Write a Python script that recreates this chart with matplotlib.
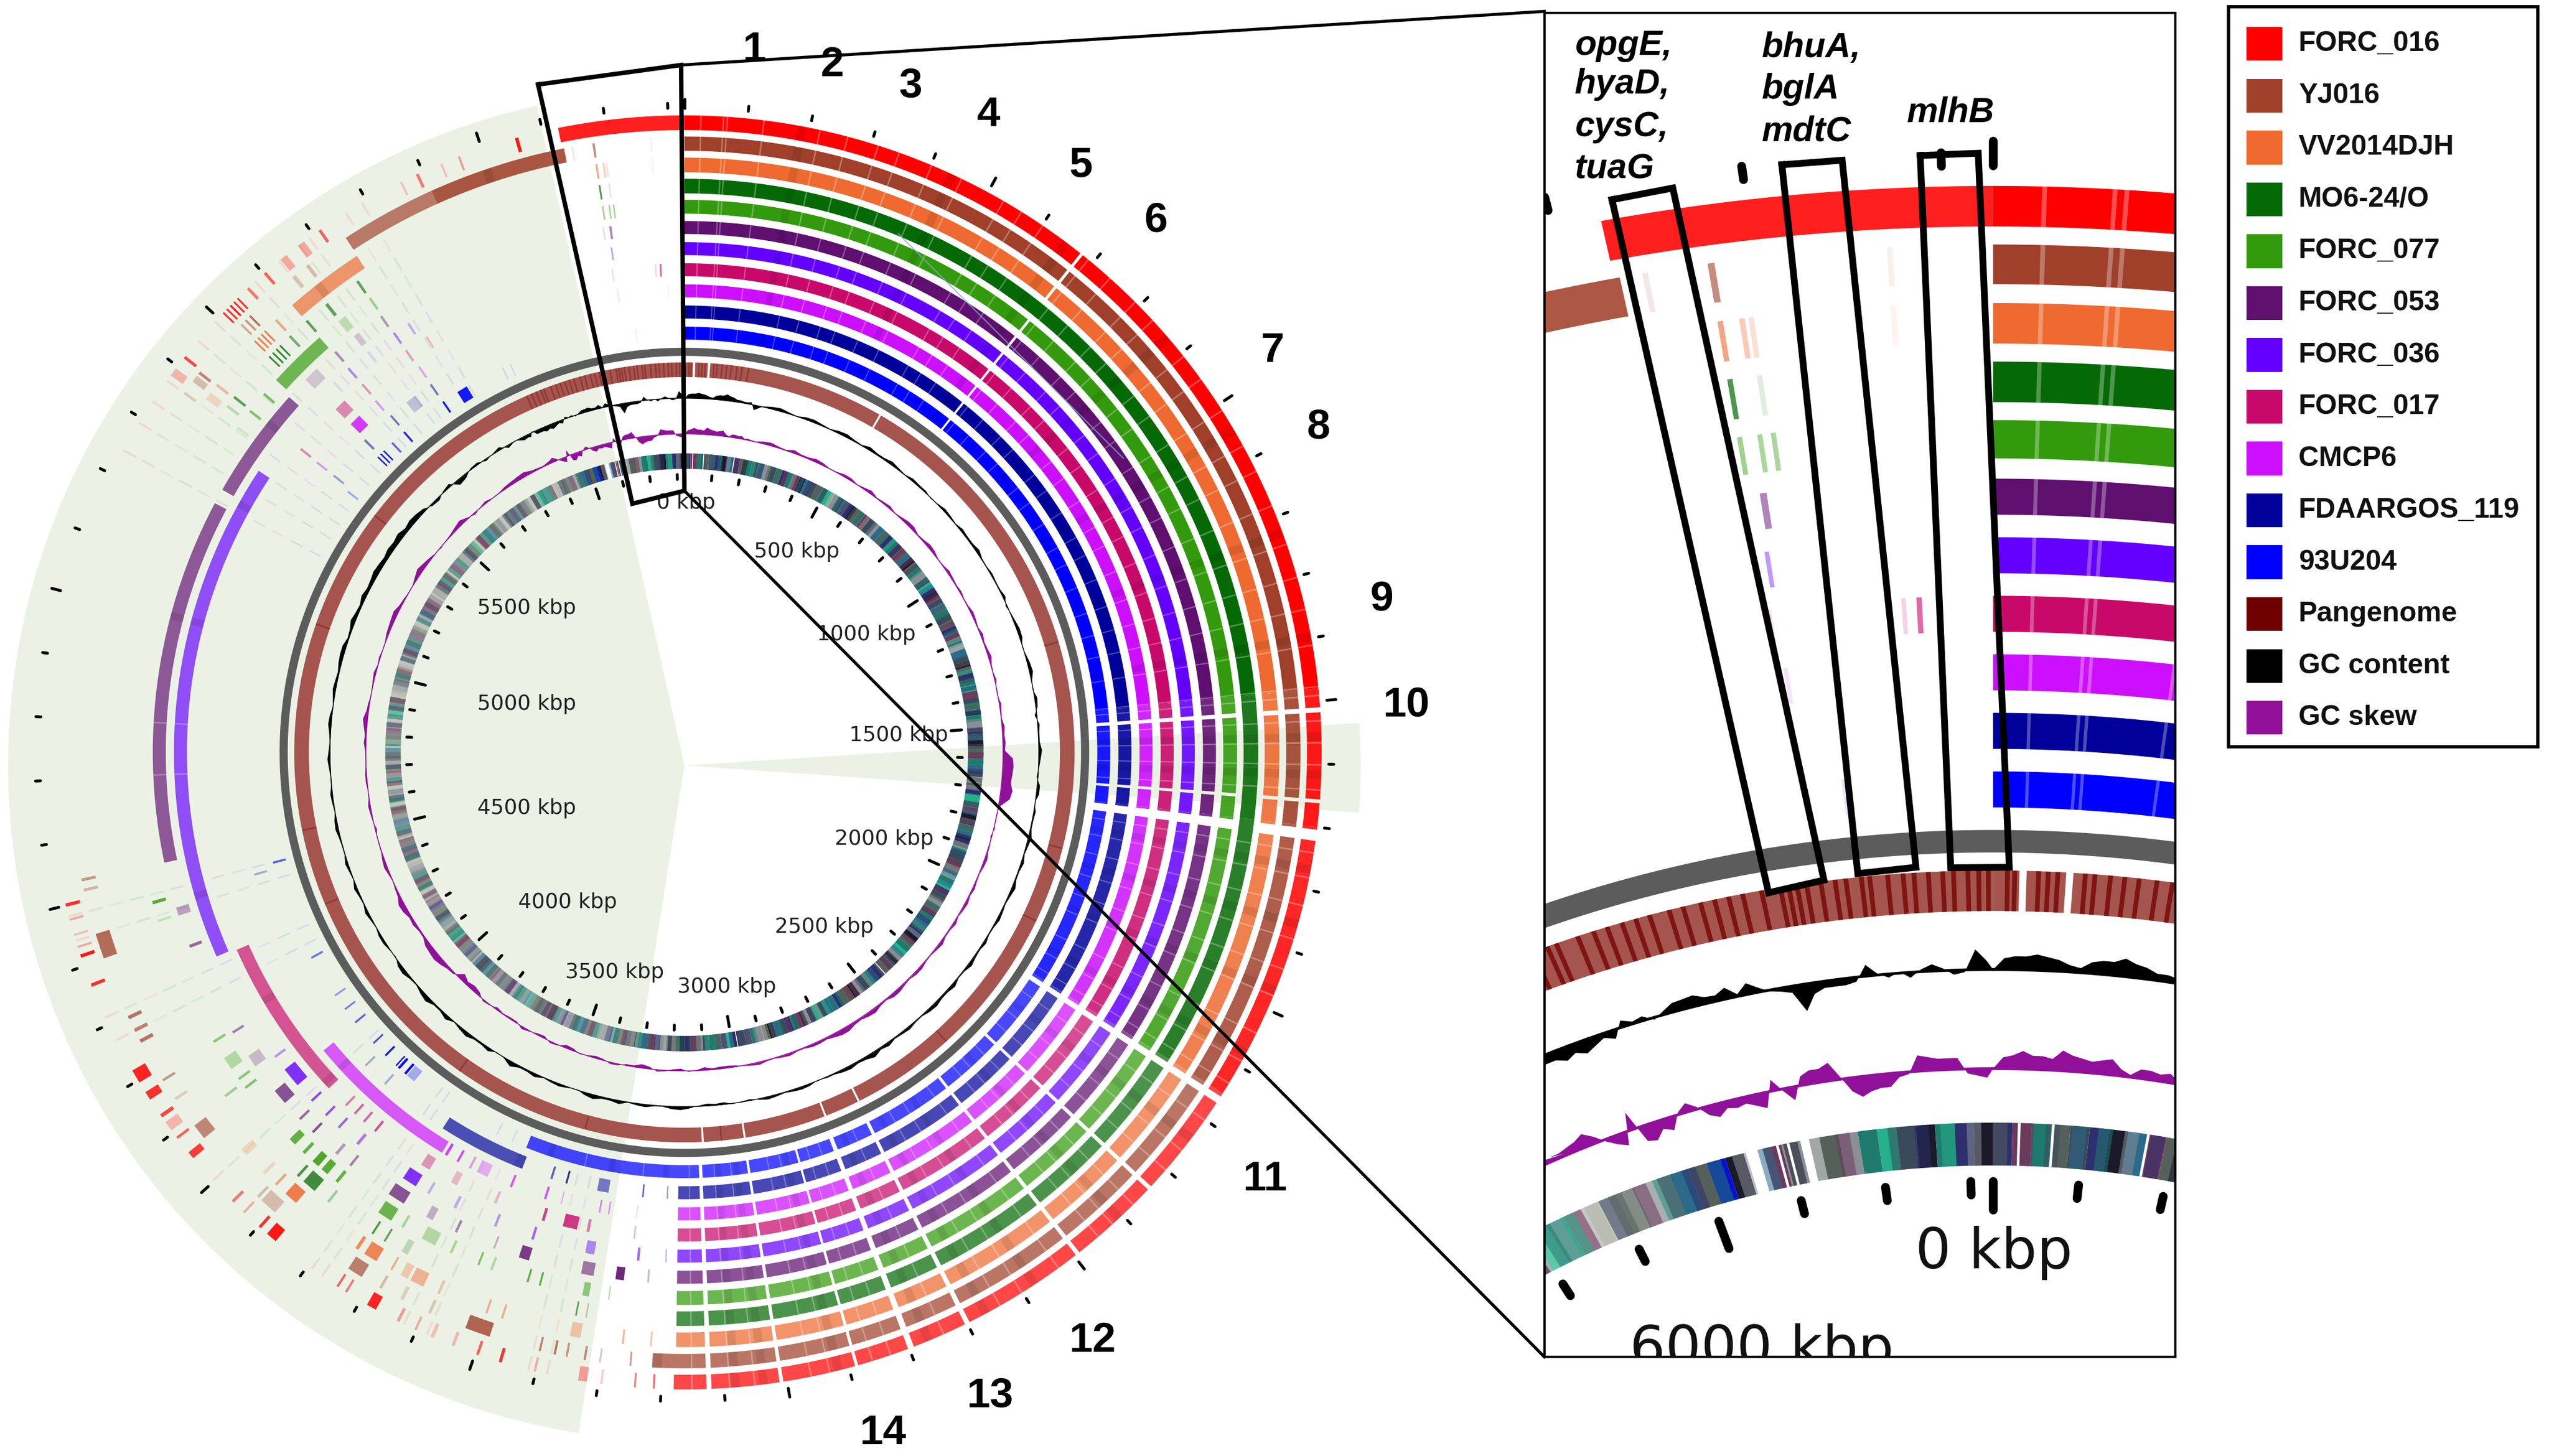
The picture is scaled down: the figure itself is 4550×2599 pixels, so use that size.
import numpy as np
import matplotlib
matplotlib.use('Agg')
import matplotlib.pyplot as plt
from matplotlib.collections import PolyCollection, LineCollection
from matplotlib.colors import to_rgb
from matplotlib.patches import Wedge, Rectangle
from matplotlib.projections.polar import PolarTransform
from matplotlib.transforms import Affine2D

GENOME_KBP = 6326

# legend
LEGEND_NAMES = ['FORC_016', 'YJ016', 'VV2014DJH', 'MO6-24/O', 'FORC_077', 'FORC_053', 'FORC_036',
                'FORC_017', 'CMCP6', 'FDAARGOS_119', '93U204', 'Pangenome', 'GC content', 'GC skew']
LEGEND_COLORS = ['#ff0000', '#a0402a', '#ee6a30', '#056a05', '#339a0d', '#5f0f70', '#6400ff',
                 '#c8096a', '#cc0fff', '#00009a', '#0000ff', '#700000', '#000000', '#90109a']

# solid stretches of each genome, in kbp
SPAN_RED = [(0, 3180), (6125, 6326)]
SPAN_BROWN = [(0, 3216), (5740, 6128)]
SPAN_ORANGE = [(0, 3177), (5601, 5739)]
SPAN_DKGREEN = [(0, 3177)]
SPAN_GREEN = [(0, 3177), (5489, 5600)]
SPAN_PURPLE = [(0, 3177), (5265, 5482), (4534, 5236)]
SPAN_VIOLET = [(0, 3177), (4330, 5333)]
SPAN_CRIMSON = [(0, 3177), (3982, 4326)]
SPAN_MAGENTA = [(0, 3177), (3711, 4049)]
SPAN_NAVY = [(0, 3177), (3537, 3738)]
SPAN_BLUE = [(0, 3546)]

# short matches: kbp, width, strength
DASH_RED = [(6055, 9, .9), (5960, 6, .35), (5930, 6, .2), (5888, 8, .5), (5860, 6, .2), (5710, 8, .6), (5670, 12, .3),
            (5635, 12, .3), (5600, 8, .6), (5564, 8, .5), (5542, 5, .8), (5534, 5, .8), (5526, 5, .9), (5518, 5, .8),
            (5510, 5, .8), (5416, 8, .7), (5382, 14, .25), (4498, 9, .8), (4475, 6, .3), (4450, 6, .2), (4430, 6, .3),
            (4414, 9, .9), (4365, 9, .8), (4196, 22, .85), (4164, 14, .8), (4130, 10, .7), (4105, 16, .25),
            (4088, 7, .6), (4049, 12, .75), (3954, 8, .5), (3930, 6, .3), (3895, 8, .8), (3864, 18, .9), (3741, 6, .6),
            (3725, 6, .5), (3672, 16, .85), (3630, 8, .35), (3600, 6, .3), (3570, 10, .2), (3535, 8, .25),
            (3494, 7, .6), (3456, 8, .8), (3400, 6, .3), (3318, 14, .35), (3293, 6, .2), (3240, 5, .5), (3210, 5, .6)]
DASH_BROWN = [(6175, 6, .6), (6140, 5, .12), (6270, 5, .08), (5660, 10, .3), (5632, 10, .25), (5536, 6, .7),
              (5526, 6, .5), (5516, 6, .4), (5411, 8, .6), (5395, 12, .3), (5370, 8, .15), (4532, 8, .5),
              (4515, 8, .35), (4401, 42, .75), (4293, 10, .7), (4270, 10, .6), (4250, 10, .7), (4177, 7, .5),
              (4140, 8, .2), (4063, 26, .6), (3930, 8, .3), (3895, 30, .3), (3718, 26, .65), (3680, 8, .3),
              (3640, 10, .2), (3590, 8, .25), (3487, 42, .8), (3400, 6, .6), (3375, 6, .7), (3355, 6, .5),
              (3325, 6, .6), (3300, 5, .3), (3250, 5, .5)]
DASH_ORANGE = [(6175, 5, .6), (6187, 5, .35), (6192, 5, .2), (6270, 5, .07), (5562, 7, .55), (5536, 5, .85),
               (5528, 5, .85), (5520, 5, .85), (5512, 5, .85), (5413, 8, .4), (5385, 14, .2), (3995, 14, .2),
               (3950, 10, .2), (3923, 7, .6), (3879, 24, .85), (3747, 10, .75), (3711, 24, .8), (3680, 6, .5),
               (3650, 14, .3), (3621, 24, .45), (3590, 8, .35), (3503, 6, .5), (3475, 6, .5), (3340, 18, .35),
               (3266, 5, .5), (3218, 5, .4)]
DASH_DKGREEN = [(6175, 5, .7), (6192, 5, .12), (5713, 8, .6), (5645, 10, .6), (5600, 8, .6), (5560, 8, .5),
                (5537, 5, .8), (5528, 5, .8), (5519, 5, .8), (5510, 5, .8), (5415, 8, .6), (5395, 8, .2),
                (4095, 8, .3), (3905, 8, .7), (3868, 26, .75), (3835, 8, .3), (3740, 6, .7), (3715, 6, .6),
                (3670, 12, .2), (3353, 5, .6), (3335, 5, .25)]
DASH_GREEN = [(6175, 5, .45), (6187, 5, .4), (6195, 5, .4), (5714, 8, .4), (5645, 16, .25), (5453, 8, .6),
              (5413, 8, .55), (5375, 8, .15), (4464, 10, .8), (4430, 8, .2), (4187, 8, .5), (4130, 24, .3),
              (4105, 8, .5), (4085, 8, .55), (3950, 14, .75), (3925, 10, .75), (3892, 14, .85), (3870, 14, .8),
              (3845, 10, .75), (3726, 28, .7), (3700, 8, .35), (3634, 28, .3), (3600, 8, .35), (3546, 6, .6),
              (3520, 8, .3), (3451, 6, .75), (3428, 6, .75), (3338, 12, .5), (3300, 5, .3)]
DASH_PURPLE = [(6183, 7, .5), (6170, 5, .15), (5712, 8, .4), (5650, 12, .2), (5602, 8, .45), (5527, 30, .2),
               (4430, 16, .35), (4365, 10, .6), (4183, 8, .5), (4108, 24, .25), (4019, 30, .7), (3975, 8, .6),
               (3940, 8, .7), (3879, 10, .4), (3845, 8, .5), (3723, 34, .7), (3660, 14, .3), (3608, 8, .5),
               (3530, 6, .3), (3462, 20, .8), (3336, 24, .55), (3278, 16, .9), (3230, 6, .3)]
DASH_VIOLET = [(6180, 5, .4), (5748, 8, .3), (5714, 8, .45), (5650, 10, .12), (5600, 8, .45), (5560, 8, .1),
               (4098, 8, .4), (4029, 40, .8), (3985, 8, .7), (3945, 8, .65), (3910, 8, .6), (3860, 10, .5),
               (3721, 30, .8), (3690, 8, .3), (3630, 10, .3), (3543, 8, .4), (3465, 8, .6), (3342, 18, .45),
               (3252, 8, .6), (3198, 5, .3)]
DASH_CRIMSON = [(6275, 6, .6), (6265, 5, .18), (6175, 5, .15), (5765, 7, .25), (5714, 8, .35), (5600, 8, .4),
                (5527, 26, .45), (5416, 8, .45), (3930, 8, .5), (3905, 8, .6), (3880, 8, .6), (3850, 8, .7),
                (3715, 20, .4), (3650, 14, .25), (3560, 10, .25), (3455, 10, .75), (3386, 30, .8), (3360, 10, .5),
                (3265, 5, .3)]
DASH_MAGENTA = [(6180, 5, .12), (6290, 4, .08), (5717, 8, .35), (5598, 8, .4), (5527, 26, .8), (5415, 8, .4),
                (3698, 10, .8), (3670, 8, .75), (3640, 8, .4), (3600, 26, .3), (3543, 8, .7), (3465, 8, .7),
                (3430, 5, .3), (3345, 6, .5), (3325, 6, .4), (3265, 4, .2)]
DASH_NAVY = [(5716, 8, .5), (5650, 26, .2), (5602, 8, .5), (5521, 9, .5), (5415, 8, .35), (4463, 8, .3), (3960, 8, .3),
             (3900, 8, .3), (3465, 8, .6), (3430, 7, .8), (3335, 26, .5), (3255, 6, .6), (3200, 5, .4)]
DASH_BLUE = [(6210, 4, .1), (5900, 5, .12), (5880, 5, .15), (5760, 26, .9), (5717, 8, .9), (5600, 8, .85),
             (5562, 8, .6), (5535, 6, .9), (5525, 6, .9), (5515, 6, .9), (5406, 8, .3), (4478, 8, .6), (4235, 8, .55),
             (4130, 7, .4), (4090, 7, .5), (4050, 8, .6), (3985, 7, .7), (3944, 8, .9), (3910, 6, .9), (3900, 10, .95),
             (3880, 10, .95), (3855, 22, .3)]
# very faint matches seen on most genomes in the shaded part
PALE_LINES = [5790, 5760, 5690, 5670, 5630, 5580, 5490, 5450, 5370, 5330, 5290, 5240, 4480, 4440, 4310, 4270, 4000,
              3790, 3770, 3620, 3580, 3410, 3380]

# white breaks and pale / dark lines shared by the genomes
GAPS_COMMON = [(3120, 3128), (3006, 3012), (2885, 2890), (2792, 2802), (2696, 2704), (2490, 2497), (2336, 2343),
               (2156, 2168), (1704, 1722), (1656, 1662), (1510, 1518), (675, 680)]
GAPS_PAN = [(3113, 3118), (3004, 3009), (2788, 2793), (2694, 2699), (527, 532), (22, 28), (61, 67)]
LIGHT_LINES = [25, 61, 67, 125, 215, 260, 310, 345, 400, 452, 527, 560, 600, 690, 735, 790, 830, 905, 950,
               1010, 1075, 1120, 1180, 1245, 1300, 1352, 1410, 1476, 1490, 1530, 1565, 1600, 1640, 1740, 1780, 1825,
               1880, 1930, 1975, 2040, 2090, 2130, 2200, 2260, 2300, 2375, 2420, 2450, 2530, 2600, 2640, 2740, 2830,
               2860, 2930, 2960, 3050, 3090, 3150, 3260, 3400, 4700, 4800]
DARK_LINES = [180, 430, 640, 860, 1040, 1220, 1390, 1550, 1610, 1760, 1850, 1960, 2070, 2230, 2400, 2570, 2660, 2760,
              2910, 3030, 3075, 3200, 3330, 3480, 3990, 4200, 4450, 5000, 5250, 5412, 5650, 5990]
TINT_KBP = [0, 1480, 1700, 2150, 3560, 5900, 6326]
TINT_VAL = [0.0, 0.1, 0.15, 0.28, 0.32, 0.12]
PAN_DARK = [5905, 5918, 5931, 5944, 5952, 5971, 5985, 5997, 6010, 6022, 6034, 6051, 6063, 6078, 6090, 6102, 6114, 6130,
            6146, 6153, 6160, 6168, 6180, 6192, 6201, 6214, 6221, 6236, 6249, 6258, 6270, 6282, 6291, 6303, 6312, 6320,
            10, 16, 36, 44, 52, 75, 83, 96, 108, 120, 135, 148, 165, 1290, 1830, 2030, 2420, 3065, 3420, 3780, 4340,
            4540, 5080, 5400]

# GC tracks: fine near 0 kbp, 50 kbp steps plus the spike in between elsewhere
GC_START = [0, 2.5, 3, 3, 3.5, 3, 2.5, 1.5, 1, 2.5, 3, 3, 4, 3, 2.5, 1.5, 1.5, 1, 1, 1.5]
GC_COARSE = [-3, 1.5, 1, 1.5, 1, 1.5, 1, 2, 1, 1, 1.5, 1, .5, 1, 1.5, 1, .5,
             1, .5, -1, 1, 1.5, .5, 2, -.5, 1, 1, .5, 1, -1, 1.5, 1, .5, 1, 1.5, .5, 1,
             1, .5, 1.5, 1, .5, 2, 1, 1.5, .5, 1, 2, 3, 1, 1.5, .5, 1, 1, 1, .5, -.5,
             -1.5, -1.5, 1, 1.5, .5, 1, 2, 1, 1.5, .5, 1, 2, 1, .5, 2, 1, 1.5, 2.5, 1, 2,
             1, 2, .5, 1.5, 1, .5, 2, 1, .5, 1, 1.5, 1, .5, 1, 1, 1, 1.5, 1, 1.5, 2,
             2.5, 1.5, 2, 3, 2.5, 3, 3.5, 4, 3.5, 2, -1.5, 2, -2, 1.5, .5, -1.5, -2]
GC_MID = [.5, 2, .3, 1.8, .4, 2, .5, 1, 2, .3, 1, -.5, 1.5, .3, 1, 2, .3,
          .5, 1.5, .3, 1.8, -.5, 1.5, .3, 1.5, -1.5, .5, 1.8, .2, 1.5, -.5, .5, 1.8, .3, .5, 2, .3,
          1.5, .3, .5, 2, .3, 1, 2, .3, 1.5, .5, 1, 1.5, 2, .5, -.5, 1.5, .3, 1.5, -1, .3,
          -1, -.5, 2, .3, 1.5, .2, 1, 2.5, -.5, 1.5, .3, 1, 3, -.5, 1, 2.5, .3, 1, 3, .5,
          2.5, -.5, 1.5, .3, 2, 1, .3, 1.8, .5, 2, .3, 1.5, .3, 1.8, .5, 2, .3, 2, 1, 2.5,
          1, 3, 1.5, 2, 3.5, 2.5, 3, 2.5, 3, -1, 1, -3, 1, -1, 2, .5, -1]
GC_END = [-1, -2, 1, -2, -2, -2, -3, -2, -3, -2, -1, -2, 1.5, .5, 1, -.5, .8, 2, 2.2, 2.5, 1.5, 1.3, 2.5, .5, 2.5, 1,
          -.3, -.8, -1.5, -6, -2.5, -1.5, -1.5, -1.5, -1, 2.5, .3, -.8, .3, -1.2, .5, 1.5, .5, -1, -.5, 4.5, 2]
SKEW_START = [0, 2.5, 3, 4, 3, 3, 2.5, 4.5, 3.5, 3, 2.5, 3, 3.5, 1.5, .5, 2, 2, 1.5, 2, .5]
SKEW_COARSE = [1, 1.5, 1, 2, 1, 1.5, .5, 1.5, 1, .5, 1.5, 1, 2, 1, 1.5, .5, 1,
               1, .5, 1, 1.5, 1, .5, 1, -.5, .5, 1.5, 1.5, 6, 6, 7, 1, -.5, -1, .5, 1, .5,
               .5, 1, 1.5, .5, 1, .5, 1.5, 1, 2, 1, 2, 1.5, 3, 1, 1.5, .5, 1, .5, 1, -1,
               -1.5, -2, .5, -1, 1, -2.5, -1, 1, -1.5, .5, -2, 1, -1, 1.5, -1, -1.5, 1, -3, -4, 1.5,
               4, 3, 1, 1.5, 3.5, 1, 1, 1.5, .5, -1, 1, .5, 1, .5, .5, 1, 3, 1, .5, 1.5,
               1, .5, 2, 3, 1, .5, 3.5, 1.5, -.5, 1, 3, -1, 1.5, .5, 2, 3, 1]
SKEW_MID = [.3, 2, .5, 1, 2, .3, 1.5, .3, 2, 1, .3, 2, .5, 2, .3, 1.5, .5,
            .3, 1.5, .3, .5, 1.8, .2, -.5, 1, .3, 1, 1, 6.5, 5.5, 6, -.5, .5, .3, 1.5, .2, 1.2,
            1.5, .3, .5, 1.8, .3, 1.5, .5, 2, .5, 2.5, 1, 3, 2, 1.5, .5, 1.5, .3, 1.5, .2, -1.5,
            -1, -.5, -1.5, .5, -1.5, -1, .8, -1, -.5, -1.5, .5, -1.5, .5, -1, -.5, .5, -2, -2, 1, 3,
            3.5, 1, 2, 3, 1.5, .3, 2, .5, .3, .5, 1.5, .3, 1, .3, 1.5, 2, 1.5, .3, 1, .5,
            .3, 1.5, 2.5, 1.5, .3, 2, 2.5, .3, .5, 2, 1, .5, .3, 1.5, 2.5, 1.5, .5]
SKEW_END = [1, 1, 1.5, 2, 3, 1.5, -.5, -2, -3, 4, -3.5, -4, -2, -3, .5, 2, .5, -2, -3, -1.5, -2, -1.5, -2.5, -3.5, 2.5,
            -.5, -3, 2, 3, 3, 4, .5, -3, -4.5, -3.5, -3, -3, -1, -.5, 3.5, 3, 2.5, 2.5, 2.5, -1, -1.5, -2]

# coloured gene ring, one letter per stripe; two layers because the stripes overlap
GENE_STRIPES = ('cgbdacjhgdbaheadcbgjhadbfeahcdbgaehdcbaghjdbeafcgd'
                'hbadcgbehajdcbfgadhbecajdgbhaedcfbgjadhcebagdhbfca'
                'edgbhacjdbfeagdchbaejgdcbhafdegbcahjdebgacfhdbaegc'
                'bdaecghbjadfcebgdhaecbjgadfhbecdagbhjeacdgfbehadcg'
                'eidgbeiagdiebhdgiaeibgdeaibdgeifbgieadgieahbgdieag'
                'gieabdigbeadigbhdeiagbdiefbgiadebhdkjlgeldebfajbcj')
GENE_OVERLAY = ('dgahbecjfadbgehcdaibgjdeahbfcdgaebhjcdagbeihdfacgb'
                'jedhagbcdefahgbjdcaeihgdbacfegbhjadceagdbhfecjagbd'
                'iehacgbfdajeiedbigaeidhbeigadeibgeidahiegbdiaeigbd'
                'eibhgaeidbegiadhieabgdiebiagdeibhaeigdbeiafgbdeahg'
                'ejbfidgacbehjdgbacfe')
GENE_PALETTE = {'a': '#3b4a5a', 'b': '#1f7a6e', 'c': '#2d2f6e', 'd': '#55605a', 'e': '#8a8f96', 'f': '#23b08a',
                'g': '#6b3a5c', 'h': '#2a6a8a', 'i': '#b0b4a8', 'j': '#1a1a2a', 'k': '#0a10d0', 'l': '#ffffff'}
GENE_WHITE = [27, 64, 168, 6100, 6088, 6060, 2420, 2980]

KBP_LABELS = ['0 kbp', '500 kbp', '1000 kbp', '1500 kbp', '2000 kbp', '2500 kbp', '3000 kbp',
              '3500 kbp', '4000 kbp', '4500 kbp', '5000 kbp', '5500 kbp']
KBP_LABEL_X = [422, 490, 533, 553, 544, 507, 447, 378, 349, 324, 324, 324]
KBP_LABEL_Y = [309.5, 339.5, 390.5, 452.5, 516.5, 570.5, 607.5, 598.5, 555.5, 497.5, 433.5, 374.5]
RING_NUMBERS = [str(i) for i in range(1, 15)]
RING_NUMBER_X = [464, 512, 560, 608, 665, 711, 783, 811, 850, 865, 778, 672, 609, 543]
RING_NUMBER_Y = [31, 40, 53, 71, 102, 136, 216, 263, 369, 434, 726, 825, 859, 882]

# layout, in 1568x896 picture units
CX, CY = 421, 463
TRACK_RADII = [(383, 392), (370.2, 379), (357, 366), (344, 353), (331.5, 340), (319, 327),
               (306, 314), (293, 301), (280, 288), (267, 275), (254, 262)]
SPANS = [SPAN_RED, SPAN_BROWN, SPAN_ORANGE, SPAN_DKGREEN, SPAN_GREEN, SPAN_PURPLE, SPAN_VIOLET,
         SPAN_CRIMSON, SPAN_MAGENTA, SPAN_NAVY, SPAN_BLUE]
DASHES = [DASH_RED, DASH_BROWN, DASH_ORANGE, DASH_DKGREEN, DASH_GREEN, DASH_PURPLE, DASH_VIOLET,
          DASH_CRIMSON, DASH_MAGENTA, DASH_NAVY, DASH_BLUE]
INSET_BOX = (950, 8, 1338, 835)
INSET_XLIM = (332, 457.1)
INSET_YLIM = (331, 32.6)


def polar_tf(ax):
    # kbp clockwise from the top, radius outwards (y axis is inverted)
    return (Affine2D().scale(2 * np.pi / GENOME_KBP, 1).translate(-np.pi / 2, 0)
            + PolarTransform(apply_theta_transforms=False)
            + Affine2D().translate(CX, CY) + ax.transData)


def arc(k0, k1, r0, r1):
    n = max(2, int((k1 - k0) / 8) + 2)
    ks = np.linspace(k0, k1, n)
    return np.column_stack([np.r_[ks, ks[::-1]], np.r_[np.full(n, r1), np.full(n, r0)]])


def add_polys(ax, tf, polys, colors):
    ax.add_collection(PolyCollection(polys, facecolors=colors, linewidths=0, transform=tf), autolim=False)


def tint_at(k):
    i = np.searchsorted(TINT_KBP, k, side='right') - 1
    return TINT_VAL[min(i, len(TINT_VAL) - 1)]


def in_ranges(k, ranges):
    return any(a <= k < b for a, b in ranges)


def interleave(a, b):
    return np.column_stack([a, b]).ravel()


def draw_tracks(ax, tick_scale, pan_alpha):
    tf = polar_tf(ax)
    polys, colors = [], []
    for (r0, r1), spans, dashes, col in zip(TRACK_RADII, SPANS, DASHES, LEGEND_COLORS):
        rgb = to_rgb(col)
        for k in PALE_LINES:
            if not in_ranges(k, spans):
                polys.append(arc(k, k + 4, r0, r1))
                colors.append((*rgb, .09))
        for s0, s1 in spans:
            cuts = {s0, s1}
            cuts.update(k for k in TINT_KBP if s0 < k < s1)
            for g0, g1 in GAPS_COMMON:
                if col == '#056a05' and g0 < 1800:
                    continue
                cuts.update(k for k in (g0, g1) if s0 < k < s1)
            cuts = sorted(cuts)
            for a, b in zip(cuts[:-1], cuts[1:]):
                mid = (a + b) / 2
                if in_ranges(mid, GAPS_COMMON) and not (col == '#056a05' and a < 1800):
                    continue
                polys.append(arc(a, b, r0, r1))
                colors.append((*rgb, 1 - tint_at(mid)))
        for k in DARK_LINES:
            if in_ranges(k, spans):
                polys.append(arc(k, k + 14, r0, r1))
                colors.append((0, 0, 0, .09))
        for k in LIGHT_LINES:
            if in_ranges(k, spans):
                polys.append(arc(k, k + 2.5, r0, r1))
                colors.append((1, 1, 1, .3))
        for k, w, strength in dashes:
            polys.append(arc(k, k + (w * .6 if w <= 10 else w), r0, r1))
            colors.append((*rgb, strength))
    # grey backbone
    polys.append(arc(0, GENOME_KBP, 244, 249))
    colors.append((.36, .36, .36, 1))
    # pangenome ring
    pan = [0] + sorted(k for g in GAPS_PAN for k in g) + [GENOME_KBP]
    for a, b in zip(pan[:-1], pan[1:]):
        if not in_ranges((a + b) / 2, GAPS_PAN):
            polys.append(arc(a, b, 231, 240))
            colors.append((*to_rgb('#a5554e'), 1))
    for k in PAN_DARK:
        polys.append(arc(k, k + 4, 231, 240))
        colors.append((*to_rgb(LEGEND_COLORS[11]), pan_alpha))
    # gene ring
    step = GENOME_KBP / len(GENE_STRIPES)
    for i, c in enumerate(GENE_STRIPES):
        k = i * step
        polys.append(arc(k, k + step, 174.5, 184))
        colors.append((*to_rgb(GENE_PALETTE[c]), .72 if 3300 < k < 5950 else 1))
    step = GENOME_KBP / len(GENE_OVERLAY)
    for i, c in enumerate(GENE_OVERLAY):
        if c in 'lk':
            continue
        polys.append(arc(i * step, (i + .55) * step, 174.5, 184))
        colors.append((*to_rgb(GENE_PALETTE[c]), .55))
    for k in GENE_WHITE:
        polys.append(arc(k, k + 3, 174.5, 184))
        colors.append((1, 1, 1, 1))
    add_polys(ax, tf, polys, colors)

    # GC content and GC skew around their baselines
    n = len(GC_COARSE)
    pos = np.r_[np.arange(0, 200, 10), interleave(200 + 50 * np.arange(n), 225 + 50 * np.arange(n)),
                5860 + 10 * np.arange(len(GC_END)), GENOME_KBP]
    gc_vals = np.r_[GC_START, interleave(GC_COARSE, GC_MID), GC_END, 0.0]
    skew_vals = np.r_[SKEW_START, interleave(SKEW_COARSE, SKEW_MID), SKEW_END, 0.0]
    ring = np.linspace(0, GENOME_KBP, 700)
    for base, vals, col in [(218, gc_vals, LEGEND_COLORS[12]), (196, skew_vals, LEGEND_COLORS[13])]:
        ax.fill_between(pos, base, base + vals, color=col, linewidth=0, transform=tf)
        ax.plot(ring, np.full_like(ring, base), color=col, lw=.35 * tick_scale, transform=tf)

    # scale ticks, inner and outer, every 100 kbp
    segs = []
    for k in range(0, GENOME_KBP, 100):
        major = k % 500 == 0
        segs.append([(k, 164.6 if major else 168), (k, 171)])
        segs.append([(k, 396.5), (k, 402 if major else 399.5)])
    ax.add_collection(LineCollection(segs, colors='black', linewidths=1.25 * tick_scale ** .9, capstyle='round',
                                     transform=tf), autolim=False)


W, H = 4550, 2599
fig = plt.figure(figsize=(W / 300, H / 300), dpi=300, facecolor='white')
PIC_W, PIC_H = 1568, 896

ax = fig.add_axes([0, 0, 1, 1], zorder=0)
ax.set_xlim(0, PIC_W)
ax.set_ylim(PIC_H, 0)
ax.axis('off')
# shaded sectors have their own apex, a little below the ring centre
for t1, t2 in [(99, 257.4), (-3.6, 4)]:
    ax.add_patch(Wedge((421, 471), 416, t1, t2, facecolor='#ebf2e5', edgecolor='none'))
draw_tracks(ax, 1.0, .35)
for label, x, y in zip(KBP_LABELS, KBP_LABEL_X, KBP_LABEL_Y):
    ax.text(x, y, label, fontsize=9, color='#222222', ha='center', va='center', family='DejaVu Sans')

# zoomed view of the boxed part
x0, y0, x1, y1 = INSET_BOX
inset = fig.add_axes([x0 / PIC_W, 1 - y1 / PIC_H, (x1 - x0) / PIC_W, (y1 - y0) / PIC_H], zorder=1)
inset.set_xlim(*INSET_XLIM)
inset.set_ylim(*INSET_YLIM)
inset.set_xticks([])
inset.set_yticks([])
for s in inset.spines.values():
    s.set_linewidth(1.0)
draw_tracks(inset, 3.4, .75)

over = fig.add_axes([0, 0, 1, 1], zorder=2)
over.set_xlim(0, PIC_W)
over.set_ylim(PIC_H, 0)
over.axis('off')
over.patch.set_alpha(0)

# source box and connector lines
over.plot([331, 419, 421, 389, 331], [52, 40, 302, 310, 52], color='black', lw=1.9, solid_joinstyle='miter')
over.plot([419, 950], [40, 7], color='black', lw=1.3)
over.plot([421, 950], [302, 835], color='black', lw=1.3)
over.plot([552.6, 691], [143.8, 282], color='#7fa8d0', lw=.5, alpha=.8)

# boxes round the regions of interest
REGION_X = [[991.6, 1029, 1122, 1087.9, 991.6], [1096.1, 1133.2, 1178.6, 1142.8, 1096.1],
            [1181.2, 1216.9, 1236, 1200, 1181.2]]
REGION_Y = [[122.9, 115.7, 541.6, 549.4, 122.9], [101.4, 98.6, 533.7, 537.6, 101.4],
            [95.7, 94.3, 533.7, 534, 95.7]]
for xs, ys in zip(REGION_X, REGION_Y):
    over.plot(xs, ys, color='black', lw=2.9, solid_joinstyle='miter')

# inset text
clip = Rectangle((x0, y0), x1 - x0, y1 - y0, transform=over.transData)
for label, x, y in [('0 kbp', 1226.6, 771), ('6000 kbp', 1083.7, 831)]:
    t = over.text(x, y, label, fontsize=24, color='#111111', ha='center', va='center', family='DejaVu Sans',
                  clip_on=True)
    t.set_clip_path(clip)
for lines, x, ys in [(['opgE,', 'hyaD,', 'cysC,', 'tuaG'], 968.6, [28, 52, 78, 104]),
                     (['bhuA,', 'bglA', 'mdtC'], 1083.7, [29.6, 55, 81]),
                     (['mlhB'], 1173, [69.6])]:
    for line, y in zip(lines, ys):
        over.text(x, y, line, fontsize=15, fontweight='bold', fontstyle='italic', va='center',
                  family='Liberation Sans')

for label, x, y in zip(RING_NUMBERS, RING_NUMBER_X, RING_NUMBER_Y):
    over.text(x, y, label, fontsize=18, fontweight='bold', ha='center', va='center', family='Liberation Sans')

# legend
over.add_patch(Rectangle((1371, 4), 190, 455.5, facecolor='white', edgecolor='black', lw=1.4))
for i, (name, col) in enumerate(zip(LEGEND_NAMES, LEGEND_COLORS)):
    y = 27 + 31.9 * i
    over.add_patch(Rectangle((1382, y - 10.4), 22, 20.8, facecolor=col, edgecolor='none'))
    over.text(1414, y, name, fontsize=12, fontweight='bold', va='center', color='#111111', family='Liberation Sans')

fig.savefig('out.png', dpi=300)
